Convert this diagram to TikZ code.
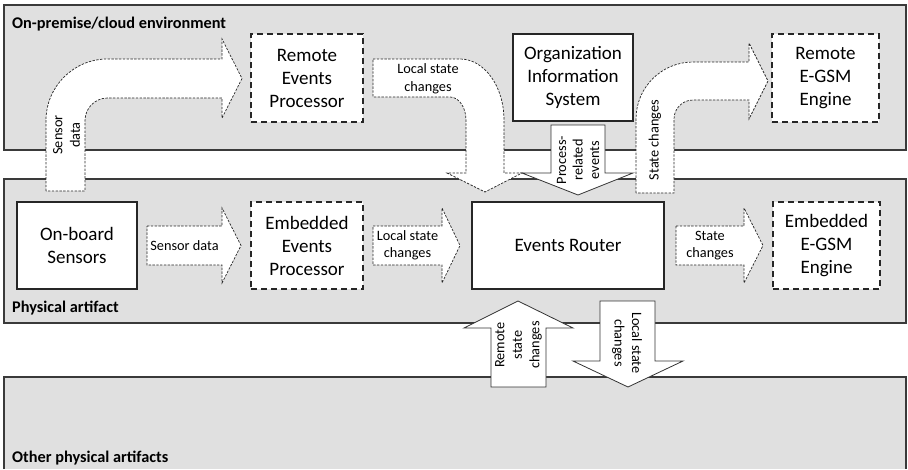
\documentclass[tikz,border=0pt]{standalone}
\usepackage{fontspec}
\setmainfont{Carlito}
\definecolor{panelgray}{HTML}{E0E0E0}
\definecolor{edgegray}{HTML}{3A3A3A}
\begin{document}
\begin{tikzpicture}[x=1pt,y=-1pt,
  panelfill/.style={fill=panelgray},
  paneledge/.style={draw=edgegray,line width=1.1pt},
  paneltitle/.style={font=\bfseries\fontsize{16.3}{18}\selectfont,anchor=base west,inner sep=0pt},
  plainbox/.style={draw=black!85,fill=white,line width=1.1pt,align=center,inner sep=0pt,
    font=\fontsize{19}{23}\selectfont},
  dashbox/.style={plainbox,dash pattern=on 6pt off 4pt,line width=1.4pt},
  flowarrow/.style={draw=black!85,fill=white,line width=0.7pt,dash pattern=on 2.4pt off 1.4pt},
  solidarrow/.style={draw=black!80,fill=white,line width=0.8pt},
  arrowtext/.style={font=\fontsize{14.3}{17.5}\selectfont,align=center,inner sep=0pt}]
\useasboundingbox (0,0) rectangle (908,469);

% three environment panels
\fill[panelfill] (4,5) rectangle (906,150);
\draw[paneledge] (4,5) rectangle (906,150);
\fill[panelfill] (4,179) rectangle (906,323);
\draw[paneledge] (4,179) rectangle (906,323);
\fill[panelfill] (4,377) rectangle (906,469);
\draw[paneledge] (4,469) -- (4,377) -- (906,377) -- (906,469);

\node[paneltitle] (tcloud) at (12,28) {On-premise/cloud environment};
\node[paneltitle] (tphys) at (12,312) {Physical artifact};
\node[paneltitle] (tother) at (12,462) {Other physical artifacts};

% components
\node[dashbox,minimum width=112pt,minimum height=88pt] (rep) at (307,78) {Remote\\Events\\Processor};
\node[plainbox,minimum width=120pt,minimum height=87pt] (ois) at (573,77.5) {Organization\\Information\\System};
\node[dashbox,minimum width=107pt,minimum height=88pt] (regsm) at (825.5,78) {Remote\\E-GSM\\Engine};
\node[plainbox,minimum width=120pt,minimum height=87pt] (obs) at (77,245.5) {On-board\\Sensors};
\node[dashbox,minimum width=112pt,minimum height=87pt] (eep) at (307,245.5) {Embedded\\Events\\Processor};
\node[plainbox,minimum width=192pt,minimum height=87pt] (router) at (568,245.5) {Events Router};
\node[dashbox,minimum width=107pt,minimum height=87pt] (eegsm) at (826.5,245.5) {Embedded\\E-GSM\\Engine};

% sensor data going up to the remote processor
\draw[flowarrow] (46,191) -- (46,120.5) .. controls (46,86.5) and (73.5,59) .. (107.5,59)
  -- (222,59) -- (222,39) -- (242,78.5) -- (222,118) -- (222,98) -- (107.5,98)
  .. controls (95.1,98) and (85,108.1) .. (85,120.5) -- (85,191) -- cycle;
\node[arrowtext,rotate=90] (lsens) at (66.5,135) {Sensor\\data};

% local state changes coming down from the remote processor
\draw[flowarrow] (373,59) -- (460,59) .. controls (484.3,59) and (504,86.3) .. (504,120)
  -- (504,173) -- (522,173) -- (485,192) -- (447,173) -- (466,173) -- (466,120)
  .. controls (466,107.3) and (458.8,97) .. (450,97) -- (373,97) -- cycle;
\node[arrowtext] (lrem) at (428,79) {Local state\\changes};

% process-related events
\draw[solidarrow] (551,125) -- (605,125) -- (605,173) -- (633,173) -- (578,195)
  -- (522,173) -- (551,173) -- cycle;
\node[arrowtext,rotate=90,font=\fontsize{14.3}{16.5}\selectfont] (lproc) at (578,160) {Process-\\related\\events};

% state changes going up to the remote engine
\draw[flowarrow] (636,193) -- (636,119) .. controls (636,87.5) and (661.5,62) .. (693,62)
  -- (749,62) -- (749,43) -- (768,81) -- (749,119) -- (749,100) -- (693,100)
  .. controls (682.5,100) and (674,108.5) .. (674,119) -- (674,193) -- cycle;
\node[arrowtext,rotate=90] (lstate) at (655,140) {State changes};

% flows inside the physical artifact
\draw[flowarrow] (147,226) -- (222,226) -- (222,208) -- (241,245.5) -- (222,283)
  -- (222,265) -- (147,265) -- cycle;
\node[arrowtext] (lsd) at (184.5,245.5) {Sensor data};
\draw[flowarrow] (373,226) -- (442,226) -- (442,208) -- (460,245.5) -- (442,283)
  -- (442,265) -- (373,265) -- cycle;
\node[arrowtext] (lloc) at (407.5,245.5) {Local state\\changes};
\draw[flowarrow] (676,226) -- (744,226) -- (744,208) -- (763,245.5) -- (744,283)
  -- (744,265) -- (676,265) -- cycle;
\node[arrowtext] (lsc) at (710,245.5) {State\\changes};

% exchanges with other physical artifacts
\draw[solidarrow] (491,387) -- (491,328) -- (464,328) -- (518,301) -- (573,328)
  -- (546,328) -- (546,387) -- cycle;
\node[arrowtext,rotate=90] (lremst) at (518.5,345) {Remote\\state\\changes};
\draw[solidarrow] (600,301) -- (655,301) -- (655,361) -- (683,361) -- (628,387)
  -- (573,361) -- (600,361) -- cycle;
\node[arrowtext,rotate=-90] (llocst) at (627,343) {Local state\\changes};
\end{tikzpicture}
\end{document}
